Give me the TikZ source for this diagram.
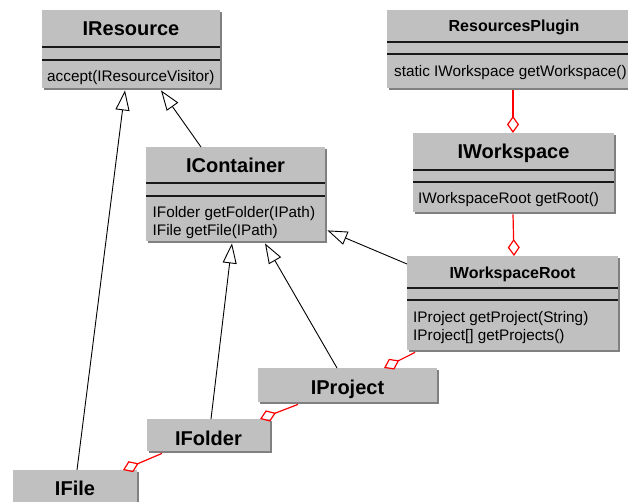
\documentclass[tikz,border=0pt]{standalone}
\usepackage{fontspec}
\setmainfont{Liberation Sans}
\usetikzlibrary{arrows.meta,shadows}
\definecolor{boxgray}{HTML}{C0C0C0}
\definecolor{shadowgray}{HTML}{808080}
\begin{document}
\begin{tikzpicture}[x=1pt,y=-1pt,
  classbox/.style={fill=boxgray, draw=none, inner sep=0pt, anchor=north west,
    drop shadow={shadow xshift=2pt, shadow yshift=-2pt, fill=shadowgray, opacity=1}},
  sepline/.style={line width=1.3pt, black!90},
  titletext/.style={font=\bfseries\fontsize{20}{24}\selectfont, inner sep=0pt, anchor=base},
  smalltitle/.style={font=\bfseries\fontsize{16}{19}\selectfont, inner sep=0pt, anchor=base},
  methodtext/.style={font=\fontsize{15.3}{18}\selectfont, inner sep=0pt, anchor=base west},
  gen/.style={draw=black, line width=0.9pt, -{Triangle[open, length=20pt, width=14pt, fill=white]}},
  agg/.style={draw=red, line width=1.2pt, -{Diamond[open, length=17pt, width=12pt]}},
]
\useasboundingbox (0,0) rectangle (628,502);

% IResource
\node[classbox, minimum width=178pt, minimum height=78pt] (ires) at (42,10) {};
\draw[sepline] (42,47) -- (220,47);
\draw[sepline] (42,60) -- (220,60);
\node[titletext] (iresT) at (131,36) {IResource};
\node[methodtext] (iresM) at (47,82) {accept(IResourceVisitor)};

% ResourcesPlugin
\node[classbox, minimum width=254pt, minimum height=78pt] (rp) at (387,10) {};
\draw[sepline] (387,42) -- (641,42);
\draw[sepline] (387,54) -- (641,54);
\node[smalltitle] (rpT) at (514,32) {ResourcesPlugin};
\node[methodtext] (rpM) at (394,77) {static IWorkspace getWorkspace()};

% IContainer
\node[classbox, minimum width=179pt, minimum height=94pt] (icont) at (146,147) {};
\draw[sepline] (146,183) -- (325,183);
\draw[sepline] (146,196) -- (325,196);
\node[titletext] (icontT) at (235.5,173) {IContainer};
\node[methodtext] (icontM1) at (152.5,217.5) {IFolder getFolder(IPath)};
\node[methodtext] (icontM2) at (152.5,235.5) {IFile getFile(IPath)};

% IWorkspace
\node[classbox, minimum width=201pt, minimum height=79pt] (iws) at (413,133) {};
\draw[sepline] (413,170) -- (614,170);
\draw[sepline] (413,182) -- (614,182);
\node[titletext] (iwsT) at (513.5,159) {IWorkspace};
\node[methodtext] (iwsM) at (418,204) {IWorkspaceRoot getRoot()};

% IWorkspaceRoot
\node[classbox, minimum width=211pt, minimum height=94pt] (iroot) at (407,256) {};
\draw[sepline] (407,288) -- (618,288);
\draw[sepline] (407,300) -- (618,300);
\node[smalltitle] (irootT) at (512.5,278) {IWorkspaceRoot};
\node[methodtext] (irootM1) at (413,322) {IProject getProject(String)};
\node[methodtext] (irootM2) at (413,340) {IProject[] getProjects()};

% IProject
\node[classbox, minimum width=179pt, minimum height=34pt] (iproj) at (258,368) {};
\node[titletext] (iprojT) at (347.5,394) {IProject};

% IFolder
\node[classbox, minimum width=123pt, minimum height=32pt] (ifold) at (147,419) {};
\node[titletext] (ifoldT) at (208.5,445) {IFolder};

% IFile
\node[classbox, minimum width=124pt, minimum height=36pt] (ifile) at (13,470) {};
\node[titletext] (ifileT) at (75,495) {IFile};

% generalizations
\draw[gen] ([xshift=64pt]ifile.north west) -- ([xshift=83pt,yshift=-2pt]ires.south west);
\draw[gen] ([xshift=55pt]icont.north west) -- ([xshift=119pt,yshift=-2pt]ires.south west);
\draw[gen] ([xshift=64pt]ifold.north west) -- ([xshift=86pt,yshift=-2pt]icont.south west);
\draw[gen] ([xshift=79pt]iproj.north west) -- ([xshift=119pt,yshift=-2pt]icont.south west);
\draw[gen] ([yshift=-8pt]iroot.north west) -- ([xshift=2pt,yshift=11pt]icont.south east);

% aggregations
\draw[agg] ([xshift=126pt,yshift=-2pt]rp.south west) -- ([xshift=100pt]iws.north west);
\draw[agg] ([xshift=100pt,yshift=-2pt]iws.south west) -- ([xshift=107pt]iroot.north west);
\draw[agg] ([xshift=8pt,yshift=-2pt]iroot.south west) -- ([xshift=126pt]iproj.north west);
\draw[agg] ([xshift=40pt,yshift=-2pt]iproj.south west) -- ([xshift=113pt]ifold.north west);
\draw[agg] ([xshift=15pt,yshift=-2pt]ifold.south west) -- ([xshift=110pt]ifile.north west);
\end{tikzpicture}
\end{document}
